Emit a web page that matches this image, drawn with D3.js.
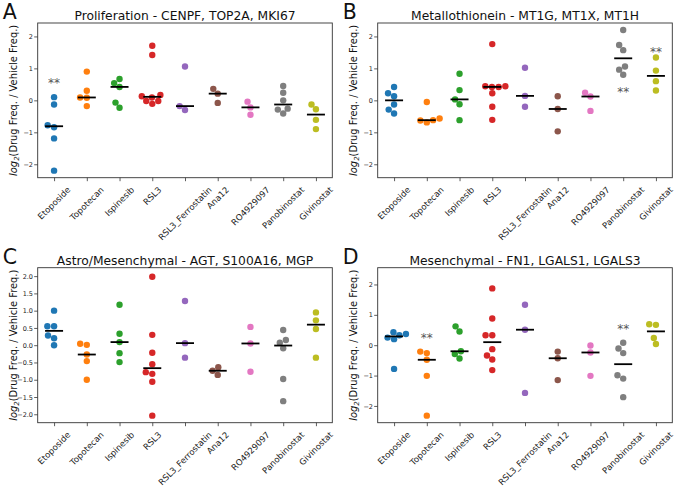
<!DOCTYPE html>
<html><head><meta charset="utf-8">
<script src="https://cdn.jsdelivr.net/npm/d3@7"></script>
<style>body{margin:0;background:#fff} svg text{font-family:"DejaVu Sans",sans-serif}</style>
</head><body>
<svg id="chart" width="680" height="492"></svg>
<script>
const categories = ["Etoposide","Topotecan","Ispinesib","RSL3","RSL3_Ferrostatin","Ana12","RO4929097","Panobinostat","Givinostat"];
const palette = ["#1f77b4","#ff7f0e","#2ca02c","#d62728","#9467bd","#8c564b","#e377c2","#7f7f7f","#bcbd22"];

const titles = ["Proliferation - CENPF, TOP2A, MKI67","Metallothionein - MT1G, MT1X, MT1H","Astro/Mesenchymal - AGT, S100A16, MGP","Mesenchymal - FN1, LGALS1, LGALS3"];
const letters = ["A","B","C","D"];

const valuesA = [
  [0.10,-0.13,-0.78,-0.84,-1.19,-2.20],
  [0.90,0.30,0.09,0.08,-0.18],
  [0.67,0.54,0.42,-0.07,-0.23],
  [1.71,1.42,0.17,0.13,0.09,-0.02,-0.02,-0.11],
  [1.06,-0.18,-0.30],
  [0.36,0.21,-0.08],
  [-0.04,-0.22,-0.45],
  [0.45,0.24,0.00,-0.26,-0.29,-0.41],
  [-0.13,-0.28,-0.61,-0.90]
];
const valuesB = [
  [0.42,0.22,0.13,-0.13,-0.29,-0.41],
  [-0.05,-0.57,-0.62,-0.63,-0.69],
  [0.83,0.32,0.03,-0.12,-0.62],
  [1.76,0.44,0.44,0.42,0.42,0.22,-0.20,-0.61],
  [1.02,0.14,-0.20],
  [0.13,-0.27,-0.97],
  [0.24,0.12,-0.33],
  [2.20,1.73,1.57,1.06,0.96,0.80],
  [1.34,0.93,0.60,0.31]
];
const valuesC = [
  [1.00,0.55,0.55,0.28,0.20,0.00],
  [0.04,0.01,-0.27,-0.46,-1.00],
  [1.17,0.33,0.09,-0.23,-0.49],
  [1.98,0.30,-0.22,-0.55,-0.78,-0.83,-1.06,-2.04],
  [1.28,0.06,-0.36],
  [-0.64,-0.74,-0.86],
  [0.53,0.05,-0.77],
  [0.44,0.15,0.07,-0.09,-0.98,-1.62],
  [0.95,0.72,0.47,-0.36]
];
const valuesD = [
  [0.43,0.37,0.33,0.25,0.20,-0.78],
  [-0.21,-0.26,-0.48,-1.01,-2.32],
  [0.62,0.45,-0.20,-0.29,-0.44],
  [1.87,0.88,0.33,0.33,-0.13,-0.34,-0.47,-0.82],
  [1.33,0.51,-1.57],
  [-0.21,-0.43,-1.15],
  [-0.01,-0.24,-1.01],
  [0.08,-0.11,-0.26,-0.99,-1.10,-1.71],
  [0.69,0.67,0.24,0.04]
];
const ticksInt = [-2,-1,0,1,2];
const ticksHalf = [-2.0,-1.5,-1.0,-0.5,0.0,0.5,1.0,1.5,2.0];
// significance marks: panel index, category, y value
const sigPanel = [0,1,1,3,3];
const sigCategory = ["Etoposide","Panobinostat","Givinostat","Topotecan","Panobinostat"];
const sigValue = [0.63,0.37,1.61,0.35,0.64];

const panelValues = [valuesA,valuesB,valuesC,valuesD];
const panelTicks = [ticksInt,ticksInt,ticksHalf,ticksInt];
const panelTickFmt = [d3.format("d"),d3.format("d"),d3.format(".1f"),d3.format("d")];

const boxes = [
  {l:37.7,t:23,r:332.3,b:177.7},
  {l:377.7,t:23,r:672.3,b:177.7},
  {l:37.7,t:267.7,r:332.3,b:422.7},
  {l:377.7,t:267.7,r:672.3,b:422.7}
];

const svg = d3.select("#chart");
const R = 3.2;
const minus = s => s.replace("-", "\u2212");

function swarm(ys, cx) {
  // seaborn-like beeswarm in pixel space
  const order = ys.map((y,i)=>i).sort((a,b)=>ys[b]-ys[a]);
  const placed = [];
  const out = new Array(ys.length);
  const d = 2*R;
  for (const i of order) {
    const y = ys[i];
    const neigh = placed.filter(p => Math.abs(p.y - y) < d);
    const cands = [cx];
    let leftFirst = true;
    for (const p of neigh) {
      const dy = y - p.y;
      const dx = Math.sqrt(Math.max(d*d - dy*dy, 0)) * 1.05;
      if (leftFirst) cands.push(p.x - dx, p.x + dx); else cands.push(p.x + dx, p.x - dx);
      leftFirst = !leftFirst;
    }
    const sorted = cands.map((x,k)=>({x,k})).sort((a,b)=>(Math.abs(a.x-cx)-Math.abs(b.x-cx)) || (a.k-b.k));
    let chosen = cx;
    for (const c of sorted) {
      const ok = neigh.every(p => Math.hypot(p.x - c.x, p.y - y) >= d*0.999);
      if (ok) { chosen = c.x; break; }
    }
    placed.push({x:chosen,y});
    out[i] = chosen;
  }
  return out;
}

panelValues.forEach((vals, pi) => {
  const bx = boxes[pi];
  const g = svg.append("g");
  const maxAbs = d3.max(vals.flat(), v => Math.abs(v)) * 1.1;
  const y = d3.scaleLinear().domain([-maxAbs, maxAbs]).range([bx.b, bx.t]);
  const x = d3.scalePoint().domain(categories).range([bx.l, bx.r]).padding(0.5);
  const step = x.step();

  g.append("rect").attr("x",bx.l).attr("y",bx.t).attr("width",bx.r-bx.l).attr("height",bx.b-bx.t)
    .attr("fill","none").attr("stroke","#333").attr("stroke-width",0.9);

  const yAxis = d3.axisLeft(y).tickValues(panelTicks[pi]).tickSize(3.5).tickPadding(1.2)
    .tickFormat(v => minus(panelTickFmt[pi](v)));
  const ya = g.append("g").attr("transform",`translate(${bx.l},0)`).call(yAxis);
  ya.select(".domain").remove();
  ya.selectAll(".tick line").attr("stroke","#333").attr("stroke-width",0.8);
  ya.selectAll(".tick text").attr("font-size",6.5).attr("fill","#222").attr("font-family","DejaVu Sans");

  const xAxis = d3.axisBottom(x).tickSize(3.5).tickFormat("");
  const xa = g.append("g").attr("transform",`translate(0,${bx.b})`).call(xAxis);
  xa.select(".domain").remove();
  xa.selectAll(".tick line").attr("stroke","#333").attr("stroke-width",0.8);

  const fs = 8.5;
  const y0 = bx.b + 7;
  categories.forEach(c => {
    const t = g.append("text").text(c).attr("font-size",fs).attr("fill","#222")
      .attr("text-anchor","middle").attr("dominant-baseline","central");
    const w = t.node().getComputedTextLength();
    const s = (w + fs*1.17) * Math.SQRT1_2;
    t.attr("transform",`translate(${x(c)},${y0 + s/2}) rotate(-45)`);
  });

  g.append("text").attr("x",(bx.l+bx.r)/2).attr("y",bx.t-3.2).attr("text-anchor","middle")
    .attr("font-size",12.3).attr("fill","#111").text(titles[pi]);
  g.append("text").attr("x",bx.l-35).attr("y",bx.t-4.2).attr("font-size",20.5).attr("fill","#111").text(letters[pi]);

  const yl = g.append("text").attr("transform",`translate(${bx.l-20.8},${(bx.t+bx.b)/2}) rotate(-90)`)
    .attr("text-anchor","middle").attr("font-size",9.9).attr("fill","#111");
  yl.append("tspan").attr("font-style","italic").text("log");
  yl.append("tspan").attr("font-style","italic").attr("font-size",6.9).attr("dy",2.2).text("2");
  yl.append("tspan").attr("dy",-2.2).text("(Drug Freq. / Vehicle Freq.)");

  vals.forEach((arr, ci) => {
    const cx = x(categories[ci]);
    const pys = arr.map(v => y(v));
    const pxs = swarm(pys, cx);
    g.append("g").selectAll("circle").data(arr).join("circle")
      .attr("cx",(d,i)=>pxs[i]).attr("cy",d=>y(d)).attr("r",R)
      .attr("fill",palette[ci]);
    const med = d3.median(arr);
    g.append("line").attr("x1",cx-step*0.275).attr("x2",cx+step*0.275)
      .attr("y1",y(med)).attr("y2",y(med)).attr("stroke","#000").attr("stroke-width",1.8);
  });

  const sg = g.append("g").attr("opacity",0.99);
  sigPanel.forEach((p, k) => {
    if (p !== pi) return;
    sg.append("text").attr("x",x(sigCategory[k])).attr("y",y(sigValue[k]) + 7)
      .attr("text-anchor","middle").attr("font-size",12).attr("fill","#555").text("**");
  });
});
</script>
</body></html>
